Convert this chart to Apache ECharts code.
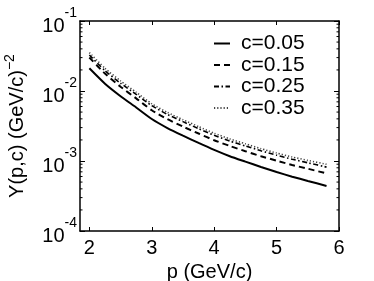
<!DOCTYPE html>
<html><head><meta charset="utf-8">
<script src="https://cdn.jsdelivr.net/npm/echarts@6/dist/echarts.min.js"></script>
<style>html,body{margin:0;padding:0;background:#fff}#c{width:374px;height:281px}</style>
</head><body><div id="c"></div>
<script>
const pValues = [2, 2.25, 2.5, 2.75, 3, 3.25, 3.5, 3.75, 4, 4.25, 4.5, 4.75, 5, 5.25, 5.5, 5.8];
const yC005 = [0.02109, 0.01271, 0.00843, 0.00582, 0.00398, 0.00296, 0.00230, 0.00181, 0.00144, 0.00117, 0.000979, 0.000822, 0.000697, 0.000597, 0.000519, 0.000440];
const yC015 = [0.0301, 0.01774, 0.01151, 0.00785, 0.00531, 0.00396, 0.00310, 0.00247, 0.00198, 0.00164, 0.00138, 0.00117, 0.00101, 0.000877, 0.000776, 0.000665];
const yC025 = [0.0327, 0.01954, 0.01291, 0.00895, 0.00617, 0.00463, 0.00365, 0.00290, 0.00233, 0.00193, 0.00164, 0.00140, 0.00121, 0.00106, 0.000944, 0.000818];
const yC035 = [0.0354, 0.02113, 0.01393, 0.00959, 0.00658, 0.00494, 0.00389, 0.00310, 0.00249, 0.00207, 0.00176, 0.00150, 0.00130, 0.00114, 0.00102, 0.000897];
const seriesNames = ['c=0.05', 'c=0.15', 'c=0.25', 'c=0.35'];
const xTicks = [2, 3, 4, 5, 6];
const minorTickValues = [];
for (let e = -4; e < -1; e++) for (let m = 2; m <= 9; m++) minorTickValues.push(m * Math.pow(10, e));

const FONT = 'Liberation Sans, Arial, sans-serif';
const xMin = 1.85, xMax = 6;
const chart = echarts.init(document.getElementById('c'));
function pairs(ys) { return pValues.map((p, i) => [p, ys[i]]); }
const styles = [
  {type: 'solid', width: 2},
  {type: [6, 4], width: 2},
  {type: [5, 2.5, 1.5, 2.5], width: 1.6},
  {type: [1.2, 2], width: 1.6, color: '#444'}
];
const allY = [yC005, yC015, yC025, yC035];
const lineSeries = allY.map((ys, i) => ({
  name: seriesNames[i], type: 'line', data: pairs(ys), symbol: 'none', smooth: 0.2,
  lineStyle: Object.assign({color: '#000'}, styles[i]), itemStyle: {color: styles[i].color || '#000'},
  xAxisIndex: 0, yAxisIndex: 0, z: 3
}));
function expLabel(v) {
  const e = Math.round(Math.log10(v));
  return '{b|10}{s|' + e + '}';
}
const richLab = {
  b: {fontSize: 20, fontFamily: FONT, color: '#000', verticalAlign: 'bottom', lineHeight: 30},
  s: {fontSize: 14, fontFamily: FONT, color: '#000', verticalAlign: 'top', lineHeight: 30}
};
const frameLine = {show: true, lineStyle: {color: '#000', width: 1.5}};
chart.setOption({
  animation: false,
  grid: {left: 80, right: 35, top: 21, bottom: 50, containLabel: false, outerBoundsMode: 'none'},
  legend: {
    data: seriesNames, orient: 'vertical', left: 213, top: 33, padding: 0, itemWidth: 16, itemHeight: 14, itemGap: 0.5,
    itemStyle: {opacity: 0},
    textStyle: {fontSize: 21, fontFamily: FONT, color: '#000', lineHeight: 20, padding: [0, 0, 0, 6]}
  },
  xAxis: [
    {type: 'value', min: xMin, max: xMax, position: 'bottom',
     axisLine: frameLine, splitLine: {show: false},
     axisLabel: {fontSize: 20, fontFamily: FONT, color: '#000', margin: 7,
       customValues: xTicks, formatter: v => String(v)},
     axisTick: {show: true, inside: true, length: 4, lineStyle: {color: '#000'}, customValues: xTicks},
     name: 'p (GeV/c)', nameLocation: 'middle', nameGap: 26,
     nameTextStyle: {fontSize: 20, fontFamily: FONT, color: '#000'}},
    {type: 'value', min: xMin, max: xMax, position: 'top',
     axisLine: frameLine, axisLabel: {show: false}, splitLine: {show: false},
     axisTick: {show: true, inside: true, length: 4, lineStyle: {color: '#000'}, customValues: xTicks}}
  ],
  yAxis: [
    {type: 'log', logBase: 10, min: 1e-4, max: 1e-1, position: 'left',
     axisLine: frameLine, splitLine: {show: false},
     axisTick: {show: true, inside: true, length: 5, lineStyle: {color: '#000'}},
     axisLabel: {formatter: expLabel, rich: richLab, margin: 3},
     name: 'Y(p,c) (GeV/c){s|−2}', nameLocation: 'middle', nameGap: 32, nameRotate: 90,
     nameTextStyle: {rich: {s: {fontSize: 14, fontFamily: FONT, color: '#000', verticalAlign: 'top', lineHeight: 28}},
       fontSize: 20, fontFamily: FONT, color: '#000', lineHeight: 28, verticalAlign: 'bottom'}},
    {type: 'log', logBase: 10, min: 1e-4, max: 1e-1, position: 'right',
     axisLine: frameLine, splitLine: {show: false}, axisLabel: {show: false},
     axisTick: {show: true, inside: true, length: 5, lineStyle: {color: '#000'}}}
  ],
  series: lineSeries.concat([{
    type: 'custom', xAxisIndex: 0, yAxisIndex: 0, silent: true, z: 2,
    data: minorTickValues.map(v => [2, v]),
    renderItem: function (params, api) {
      const cs = params.coordSys;
      const y = api.coord([2, api.value(1)])[1];
      const st = {stroke: '#000', lineWidth: 1};
      return {type: 'group', children: [
        {type: 'line', shape: {x1: cs.x, y1: y, x2: cs.x + 2.5, y2: y}, style: st},
        {type: 'line', shape: {x1: cs.x + cs.width, y1: y, x2: cs.x + cs.width - 2.5, y2: y}, style: st}
      ]};
    }
  }])
});
</script></body></html>
